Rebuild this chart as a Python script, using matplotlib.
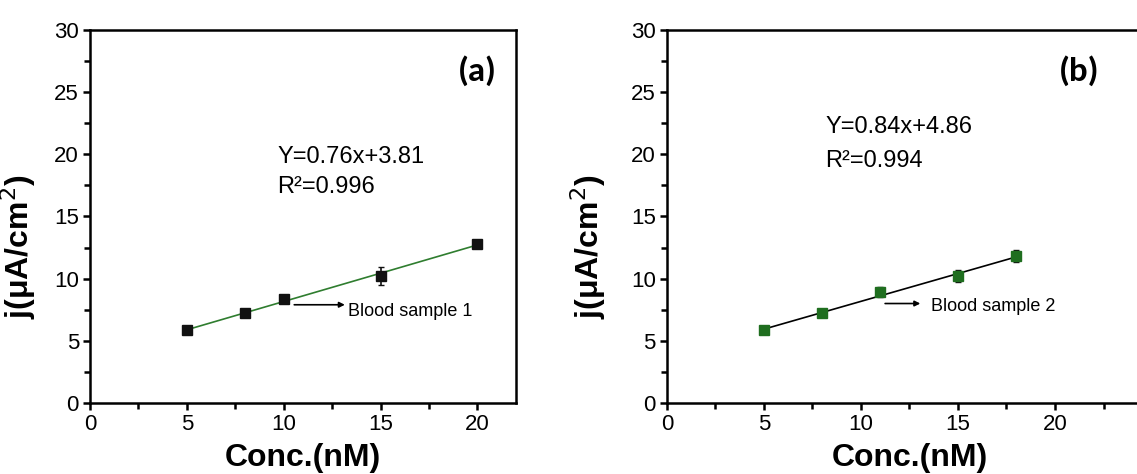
import numpy as np
import matplotlib
matplotlib.use("Agg")
from matplotlib import pyplot as plt
from matplotlib.ticker import MultipleLocator

# panel (a) data
conc_a = [5, 8, 10, 15, 20]
j_a = [5.85, 7.2, 8.4, 10.2, 12.8]
err_a = [0.15, 0.3, 0.25, 0.7, 0.3]

# panel (b) data
conc_b = [5, 8, 11, 15, 18]
j_b = [5.9, 7.2, 8.9, 10.2, 11.8]
err_b = [0.3, 0.3, 0.4, 0.5, 0.5]

eq_a = ["Y=0.76x+3.81", "R\u00b2=0.996"]
eq_b = ["Y=0.84x+4.86", "R\u00b2=0.994"]

plt.rcParams["font.family"] = ["Liberation Sans", "DejaVu Sans"]
bold_fam = ["Liberation Sans", "DejaVu Sans"]
panel_fam = ["Carlito", "Open Sans", "DejaVu Sans"]


def style_axes(ax, xmax):
	"""Origin-like axes: thick frame, outward ticks on left and bottom."""
	ax.set_xlim(0, xmax)
	ax.set_ylim(0, 30)
	ax.xaxis.set_major_locator(MultipleLocator(5))
	ax.xaxis.set_minor_locator(MultipleLocator(2.5))
	ax.yaxis.set_major_locator(MultipleLocator(5))
	ax.yaxis.set_minor_locator(MultipleLocator(2.5))
	ax.set_xticks([0, 5, 10, 15, 20])
	for s in ax.spines.values():
		s.set_linewidth(1.8)
	ax.tick_params(which="both", direction="out", width=1.8, labelsize=16, top=False, right=False)
	ax.tick_params(which="major", length=5, pad=3)
	ax.tick_params(which="minor", length=4)
	ax.set_xlabel("Conc.(nM)", fontsize=23, fontweight="bold", family=bold_fam, labelpad=6)
	ax.set_ylabel("j(\u03bcA/cm$^2$)", fontsize=23, fontweight="bold", family=bold_fam)


fig = plt.figure(figsize=(11.37, 4.74), dpi=100)
ax1 = fig.add_axes([0.0792, 0.1498, 0.3747, 0.787])
ax2 = fig.add_axes([0.5866, 0.1498, 0.4266, 0.787])

# (a)
fit_a = np.polyfit(conc_a, j_a, 1)
xs = np.array([conc_a[0], conc_a[-1]])
ax1.plot(xs, np.polyval(fit_a, xs), color="#2f7d2f", lw=1.2, zorder=2)
ax1.errorbar(conc_a, j_a, yerr=err_a, fmt="s", color="#111111", ms=7, capsize=2.5, elinewidth=1.2, zorder=3)
ax1.text(9.66, 19.8, eq_a[0], fontsize=17, va="center")
ax1.text(9.66, 17.4, eq_a[1], fontsize=17, va="center")
ax1.text(21.0, 26.7, "(a)", fontsize=25, fontweight="bold", ha="right", va="center", family=panel_fam)
ax1.annotate("", xy=(13.3, 7.9), xytext=(10.4, 7.9),
	arrowprops=dict(arrowstyle="-|>", color="black", lw=1.2, mutation_scale=8))
ax1.text(13.3, 7.35, "Blood sample 1", fontsize=13, va="center")
style_axes(ax1, 22)
ax1.yaxis.set_label_coords(-0.122, 0.42)

# (b)
fit_b = np.polyfit(conc_b, j_b, 1)
xs = np.array([conc_b[0], conc_b[-1]])
ax2.plot(xs, np.polyval(fit_b, xs), color="black", lw=1.2, zorder=2)
ax2.errorbar(conc_b, j_b, yerr=err_b, fmt="s", color="#1f6e1f", ecolor="#111111", ms=7, capsize=2.5, elinewidth=1.2, zorder=3)
ax2.text(8.15, 22.2, eq_b[0], fontsize=17, va="center")
ax2.text(8.15, 19.5, eq_b[1], fontsize=17, va="center")
ax2.text(22.3, 26.7, "(b)", fontsize=25, fontweight="bold", ha="right", va="center", family=panel_fam)
ax2.annotate("", xy=(13.2, 8.0), xytext=(11.1, 8.0),
	arrowprops=dict(arrowstyle="-|>", color="black", lw=1.2, mutation_scale=8))
ax2.text(13.6, 7.75, "Blood sample 2", fontsize=13, va="center")
style_axes(ax2, 25)
ax2.yaxis.set_label_coords(-0.122, 0.42)

fig.savefig("out.png", dpi=100)
